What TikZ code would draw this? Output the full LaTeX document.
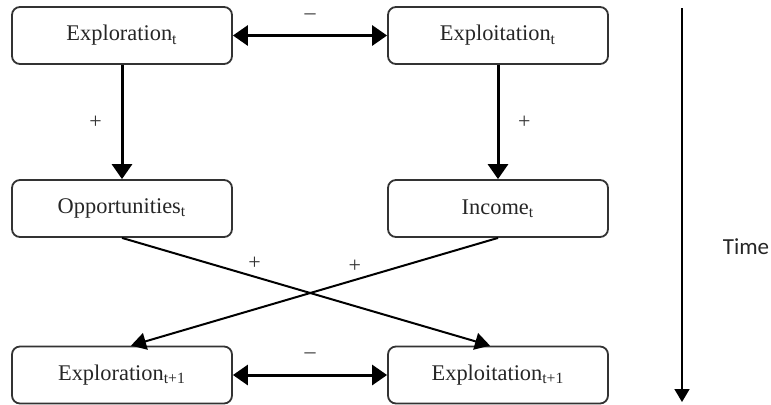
\documentclass[tikz,border=0pt]{standalone}
\usepackage{fontspec}
\setmainfont{Liberation Serif}
\newfontfamily\timefont{Carlito}
\usetikzlibrary{arrows.meta,positioning}
\tikzset{
    box/.style={draw=black!80,line width=0.9pt,rounded corners=4pt,minimum width=110pt,minimum height=28.5pt,font=\fontsize{11.2}{13}\selectfont,text=black!85},
    strong/.style={line width=1.5pt,-{Triangle[length=7.5pt,width=10pt]}},
    both/.style={line width=1.5pt,{Triangle[length=7.5pt,width=10pt]}-{Triangle[length=7.5pt,width=10pt]}},
    cross/.style={line width=1pt,-{Triangle[length=7.5pt,width=8.5pt]}},
    sign/.style={font=\fontsize{11}{13}\selectfont,text=black!80}
}
\begin{document}
\begin{tikzpicture}[x=0.5pt,y=-0.5pt]
    \useasboundingbox (0,0) rectangle (771,404);
    \node[box] (explr) at (122,35.5) {Exploration\textsubscript{t}};
    \node[box] (explt) at (498,35.5) {Exploitation\textsubscript{t}};
    \node[box] (opp) at (122,208.5) {Opportunities\textsubscript{t}};
    \node[box] (inc) at (498,208.5) {Income\textsubscript{t}};
    \node[box] (explrn) at (122,375) {Exploration\textsubscript{t+1}};
    \node[box] (expltn) at (498,375) {Exploitation\textsubscript{t+1}};
    % links within period t
    \draw[both] (explr) -- node[sign,above=4pt] {–} (explt);
    \draw[strong] (explr) -- node[sign,left=6pt] {+} (opp);
    \draw[strong] (explt) -- node[sign,right=6pt] {+} (inc);
    % links to period t+1
    \draw[cross] (opp.south) -- node[sign,pos=0.36,above] {+} ([xshift=-4pt]expltn.north);
    \draw[cross] (inc.south) -- node[sign,pos=0.39,above] {+} ([xshift=4.5pt]explrn.north);
    \draw[both] (explrn) -- node[sign,above=4pt] {–} (expltn);
    % time axis
    \coordinate (tstart) at (682,8);
    \coordinate (tend) at (682,402);
    \draw[line width=0.8pt,-{Triangle[length=6.5pt,width=7.5pt]}] (tstart) -- (tend);
    \node[font=\timefont\fontsize{11.5}{13}\selectfont,text=black!85] (time) at (746,247) {Time};
\end{tikzpicture}
\end{document}
